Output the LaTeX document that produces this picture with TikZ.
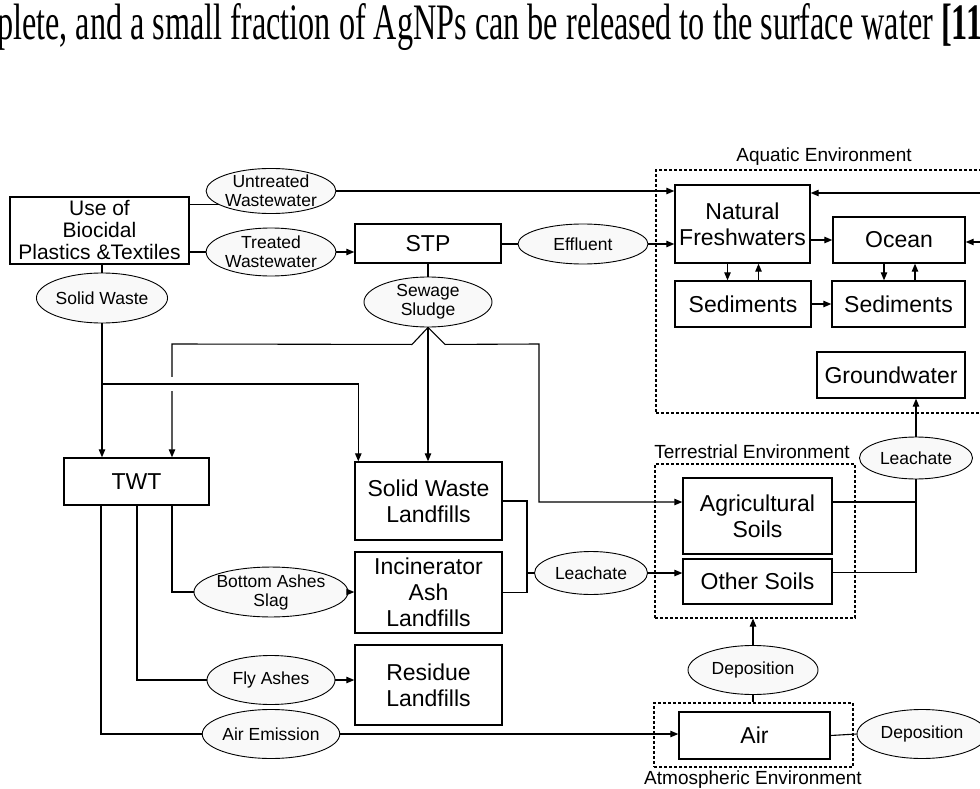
\documentclass[tikz,border=0pt]{standalone}
\usepackage{graphicx}
\usepackage{fontspec}
\setmainfont{Liberation Sans}
\newfontfamily\serifont{Liberation Serif}
\usetikzlibrary{arrows.meta,shapes.geometric,calc}
\begin{document}
\begin{tikzpicture}[x=1pt,y=-1pt,
  sz/.style 2 args={minimum width=#1pt, minimum height=#2pt},
  box/.style={draw, line width=1.4pt, align=center, inner sep=0pt, font=\fontsize{23}{26}\selectfont},
  oval/.style={ellipse, draw, line width=0.9pt, fill=gray!5, align=center, inner sep=0pt, font=\fontsize{17.5}{19}\selectfont},
  envbox/.style={draw, line width=1.2pt, dash pattern=on 3pt off 2pt, inner sep=0pt},
  envlabel/.style={font=\fontsize{19}{21}\selectfont, inner sep=0pt},
  link/.style={line width=1.1pt},
  flow/.style={line width=1.1pt, -{Triangle[length=8pt,width=6.5pt]}},
]
\useasboundingbox (0,0) rectangle (980,789);
\clip (0,0) rectangle (980,789);

% top text line of the page
\node[anchor=base west, inner sep=0pt] (toptext) at (-3,40)
  {\resizebox{985pt}{36pt}{\serifont plete, and a small fraction of AgNPs can be released to the surface water \textbf{[11}}};

% environment frames
\node[envbox, sz={339}{243}] (aqua) at (825.5,291.5) {};
\node[envlabel] (aqualab) at (824,157) {Aquatic Environment};
\node[envbox, sz={200}{154}] (terr) at (755,541) {};
\node[envlabel] (terrlab) at (752,452) {Terrestrial Environment};
\node[envbox, sz={199}{64}] (atm) at (753.5,735) {};
\node[envlabel] (atmlab) at (753,780) {Atmospheric Environment};

% boxes
\node[box, sz={179}{67}, font=\fontsize{21}{22}\selectfont] (use) at (99.5,230.5) {Use of\\Biocidal\\Plastics \&Textiles};
\node[box, sz={146}{39}] (stp) at (428,243.5) {STP};
\node[box, sz={135}{78}] (natural) at (742.5,224) {Natural\\Freshwaters};
\node[box, sz={132}{46}] (ocean) at (899,240) {Ocean};
\node[box, sz={136}{46}] (sedf) at (743,304) {Sediments};
\node[box, sz={133}{46}] (sedo) at (898.5,304) {Sediments};
\node[box, sz={148}{46}] (ground) at (891,375) {Groundwater};
\node[box, sz={149}{76}] (agri) at (757.5,516) {Agricultural\\Soils};
\node[box, sz={149}{45}] (other) at (757.5,581.5) {Other Soils};
\node[box, sz={147}{78}] (swl) at (428.5,501) {Solid Waste\\Landfills};
\node[box, sz={147}{81}] (inc) at (428.5,592.5) {Incinerator\\Ash\\Landfills};
\node[box, sz={147}{80}] (res) at (428.5,685) {Residue\\Landfills};
\node[box, sz={145}{47}] (twt) at (136.5,481.5) {TWT};
\node[box, sz={151}{47}] (air) at (754.5,735.5) {Air};

% ovals
\node[oval, sz={128}{40}] (untreated) at (271,191) {Untreated\\Wastewater};
\node[oval, sz={128}{48}] (treated) at (271,252) {Treated\\Wastewater};
\node[oval, sz={130}{40}] (effluent) at (583,244) {Effluent};
\node[oval, sz={113}{42}] (leachg) at (916,458) {Leachate};
\node[oval, sz={113}{43}] (leachs) at (591,573) {Leachate};
\node[oval, sz={128}{50}] (solid) at (102,298) {Solid Waste};
\node[oval, sz={128}{50}] (sewage) at (428,302) {Sewage\\Sludge};
\node[oval, sz={128}{48}] (bottom) at (271,592) {Bottom Ashes\\Slag};
\node[oval, sz={128}{49}] (fly) at (271,680) {Fly Ashes};
\node[oval, sz={128}{49}] (airem) at (271,734) {Air Emission};
\node[oval, sz={130}{49}] (dep1) at (753,670) {Deposition};
\node[oval, sz={130}{49}] (dep2) at (922,734) {Deposition};

% helper coordinates
\coordinate (xa) at (101,0);
\coordinate (xb) at (137,0);
\coordinate (xc) at (172,0);
\coordinate (lj) at (527,0);
\coordinate (sj) at (539,0);
\coordinate (yb) at (0,384);
\coordinate (ys) at (0,344);
\coordinate (rin1) at (990,193);
\coordinate (rin2) at (990,242);

% top rows
\draw[link] (untreated.195 -| use.east) -- (untreated.195);
\draw[flow] (untreated.east) -- (untreated.east -| natural.west);
\draw[flow] (rin1) -- (rin1 -| natural.east);
\draw[flow] (rin2) -- (rin2 -| ocean.east);
\draw[link] (treated.west -| use.east) -- (treated.west);
\draw[flow] (treated.east) -- (treated.east -| stp.west);
\draw[link] (effluent.west -| stp.east) -- (effluent.west);
\draw[flow] (effluent.east) -- (effluent.east -| natural.west);

% aquatic
\draw[flow] (ocean.west -| natural.east) -- (ocean.west);
\draw[flow] ([xshift=-15pt]natural.south) -- ([xshift=-15pt]natural.south |- sedf.north);
\draw[flow] ([xshift=16pt]natural.south |- sedf.north) -- ([xshift=16pt]natural.south);
\draw[flow] ([xshift=-15pt]ocean.south) -- ([xshift=-15pt]ocean.south |- sedo.north);
\draw[flow] ([xshift=16pt]ocean.south |- sedo.north) -- ([xshift=16pt]ocean.south);
\draw[flow] (sedf.east) -- (sedo.west);

% groundwater leachate
\draw[flow] (leachg.north) -- (leachg.north |- ground.south);
\draw[link] ([yshift=14pt]agri.east) -| (leachg.south);
\draw[link] ([yshift=9pt]other.east) -| (leachg.south);

% landfill leachate
\draw[link] (swl.east) -| (lj |- inc.east) -- (inc.east);
\draw[link] (lj |- leachs.west) -- (leachs.west);
\draw[flow] (leachs.east) -- (leachs.east -| other.west);

% sewage sludge
\draw[link] (stp.south) -- (sewage.north);
\draw[flow] (sewage.south) -- (sewage.south |- swl.north);
\draw[flow] (sewage.south) -- ++(-16,17) -- (xc |- ys) -- (xc |- twt.north);
\draw[flow] (sewage.south) -- ++(17,17) -- (sj |- ys) |- ([yshift=14pt]agri.west);

% solid waste
\draw[link] (solid.north |- use.south) -- (solid.north);
\draw[flow] (solid.south) -- (solid.south |- twt.north);
\fill[white] (166,377) rectangle (178,391);
\draw[flow] (solid.south |- yb) -| ([xshift=4pt]swl.north west);

% TWT outputs
\draw[link] (xc |- twt.south) |- (bottom.west);
\draw[flow] (bottom.east) -- (bottom.east -| inc.west);
\draw[link] (xb |- twt.south) |- (fly.west);
\draw[flow] (fly.east) -- (fly.east -| res.west);
\draw[link] (xa |- twt.south) |- (airem.west);
\draw[flow] (airem.east) -- (airem.east -| air.west);

% air
\draw[link] (air.east) -- (dep2.west);
\draw[link] (dep1.south) -- (dep1.south |- atm.north);
\draw[flow] (dep1.north) -- (dep1.north |- terr.south);
\end{tikzpicture}
\end{document}
